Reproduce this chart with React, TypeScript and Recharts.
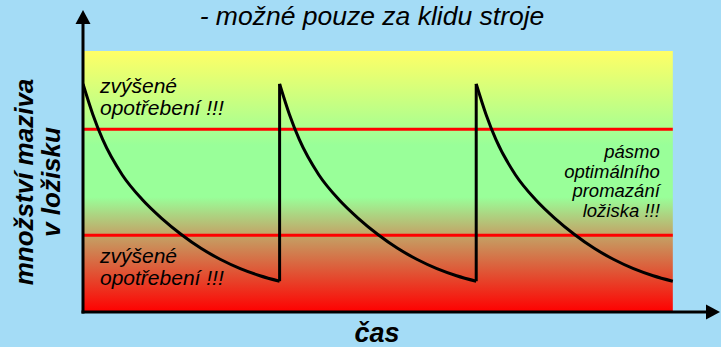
import React from 'react';
import { ComposedChart, Line, XAxis, YAxis, ReferenceArea, ReferenceLine, Label } from 'recharts';

// one lubrication cycle = 10 time units, three cycles shown
const cycleStarts = [0, 10, 20];
const decayOffsets = [0, 0.5, 1, 2, 3, 4, 5, 6, 7, 8, 9, 10];
const decayLevels = [87.4, 75.7, 66.1, 52.5, 43.2, 35.9, 29.7, 24.4, 20.1, 16.6, 13.9, 11.8];

// band limits (amount of grease, % of zone height)
const upperLimit = 70;
const lowerLimit = 29.4;
const zoneTop = 100;
const zoneEnd = 30;
const xMax = 32.4;
const yMax = 115.7;

const wearText = ['zvýšené', 'opotřebení !!!'];
const optimumText = ['pásmo', 'optimálního', 'promazání', 'ložiska !!!'];

const FONT = '"Liberation Sans", Arial, sans-serif';
const BG = '#a4dcf6';

const buildRows = () => {
  const byT = new Map<number, Record<string, number>>();
  cycleStarts.forEach((start, k) => {
    decayOffsets.forEach((off, i) => {
      const t = start + off;
      const row = byT.get(t) || { t };
      row[`c${k}`] = decayLevels[i];
      byT.set(t, row);
    });
  });
  return Array.from(byT.values()).sort((a, b) => a.t - b.t);
};

const data = buildRows();

// axis line with a filled arrow head at the far end
const Arrow = (props: any) => {
  const { x1, y1, x2, y2 } = props;
  const len = Math.hypot(x2 - x1, y2 - y1) || 1;
  const dx = (x2 - x1) / len;
  const dy = (y2 - y1) / len;
  const bx = x2 - 14 * dx;
  const by = y2 - 14 * dy;
  const pts = `${x2},${y2} ${bx - 7.5 * dy},${by + 7.5 * dx} ${bx + 7.5 * dy},${by - 7.5 * dx}`;
  return (
    <g>
      <line x1={x1 - 1.5 * dx} y1={y1 - 1.5 * dy} x2={x2 - 10 * dx} y2={y2 - 10 * dy} stroke="#000" strokeWidth={3} />
      <polygon points={pts} fill="#000" />
    </g>
  );
};

const textLines = (lines: string[], x: number, y0: number, step: number, anchor: 'start' | 'end', size: number) => (
  <g fontFamily={FONT} fontSize={size} fontStyle="italic" fill="#000" textAnchor={anchor}>
    {lines.map((s, i) => (
      <text key={s} x={x} y={y0 + i * step}>{s}</text>
    ))}
  </g>
);

const App: React.FC = () => {
  const last = decayLevels[decayLevels.length - 1];
  return (
    <div style={{ position: 'absolute', left: 0, top: 0, width: 721, height: 347, background: BG }}>
      <ComposedChart width={721} height={347} data={data} margin={{ top: 10, right: 1, bottom: 35, left: 83 }}>
        <defs>
          <linearGradient id="zone" x1="0" y1="0" x2="0" y2="1">
            <stop offset="0" stopColor="#ffff66" />
            <stop offset="0.36" stopColor="#99ff99" />
            <stop offset="0.56" stopColor="#99ff99" />
            <stop offset="0.70" stopColor="#c2a668" />
            <stop offset="1" stopColor="#ff0000" />
          </linearGradient>
        </defs>
        <XAxis type="number" dataKey="t" domain={[0, xMax]} allowDataOverflow hide />
        <YAxis type="number" domain={[0, yMax]} allowDataOverflow hide />
        <ReferenceArea x1={0} x2={zoneEnd} y1={0} y2={zoneTop} fill="url(#zone)" fillOpacity={1} stroke="none" />
        <ReferenceArea x1={0} x2={zoneEnd} y1={upperLimit} y2={zoneTop} fill="none" stroke="none">
          <Label content={(p: any) => textLines(wearText, p.viewBox.x + 17, p.viewBox.y + 42, 22, 'start', 21)} />
        </ReferenceArea>
        <ReferenceArea x1={0} x2={zoneEnd} y1={0} y2={lowerLimit} fill="none" stroke="none">
          <Label content={(p: any) => textLines(wearText, p.viewBox.x + 17, p.viewBox.y + 28, 22, 'start', 21)} />
        </ReferenceArea>
        <ReferenceArea x1={0} x2={zoneEnd} y1={lowerLimit} y2={upperLimit} fill="none" stroke="none">
          <Label content={(p: any) => textLines(optimumText, p.viewBox.x + p.viewBox.width - 13, p.viewBox.y + 29, 19.6, 'end', 18.5)} />
        </ReferenceArea>
        <ReferenceLine segment={[{ x: 0, y: upperLimit }, { x: zoneEnd, y: upperLimit }]} stroke="#ff0000" strokeWidth={3} />
        <ReferenceLine segment={[{ x: 0, y: lowerLimit }, { x: zoneEnd, y: lowerLimit }]} stroke="#ff0000" strokeWidth={3} />
        {cycleStarts.slice(1).map(s => (
          <ReferenceLine key={`j${s}`} segment={[{ x: s, y: last }, { x: s, y: decayLevels[0] }]} stroke="#000" strokeWidth={3} />
        ))}
        {cycleStarts.map((s, k) => (
          <Line key={`c${k}`} dataKey={`c${k}`} type="monotone" stroke="#000" strokeWidth={3} dot={false}
            activeDot={false} isAnimationActive={false} />
        ))}
        <ReferenceLine segment={[{ x: 0, y: 0 }, { x: 0, y: yMax }]} ifOverflow="visible" shape={Arrow} />
        <ReferenceLine segment={[{ x: 0, y: 0 }, { x: xMax, y: 0 }]} ifOverflow="visible" shape={Arrow} />
        <text x={372} y={25} textAnchor="middle" fontFamily={FONT} fontSize={26.5} fontStyle="italic" fill="#000">
          - možné pouze za klidu stroje
        </text>
        <g fontFamily={FONT} fontSize={26} fontStyle="italic" fontWeight="bold" fill="#000">
          <text transform="rotate(-90)" x={-182} y={33} textAnchor="middle">množství maziva</text>
          <text transform="rotate(-90)" x={-182} y={60} textAnchor="middle">v ložisku</text>
          <text x={377} y={342} textAnchor="middle" fontSize={27}>čas</text>
        </g>
      </ComposedChart>
    </div>
  );
};

export default App;
